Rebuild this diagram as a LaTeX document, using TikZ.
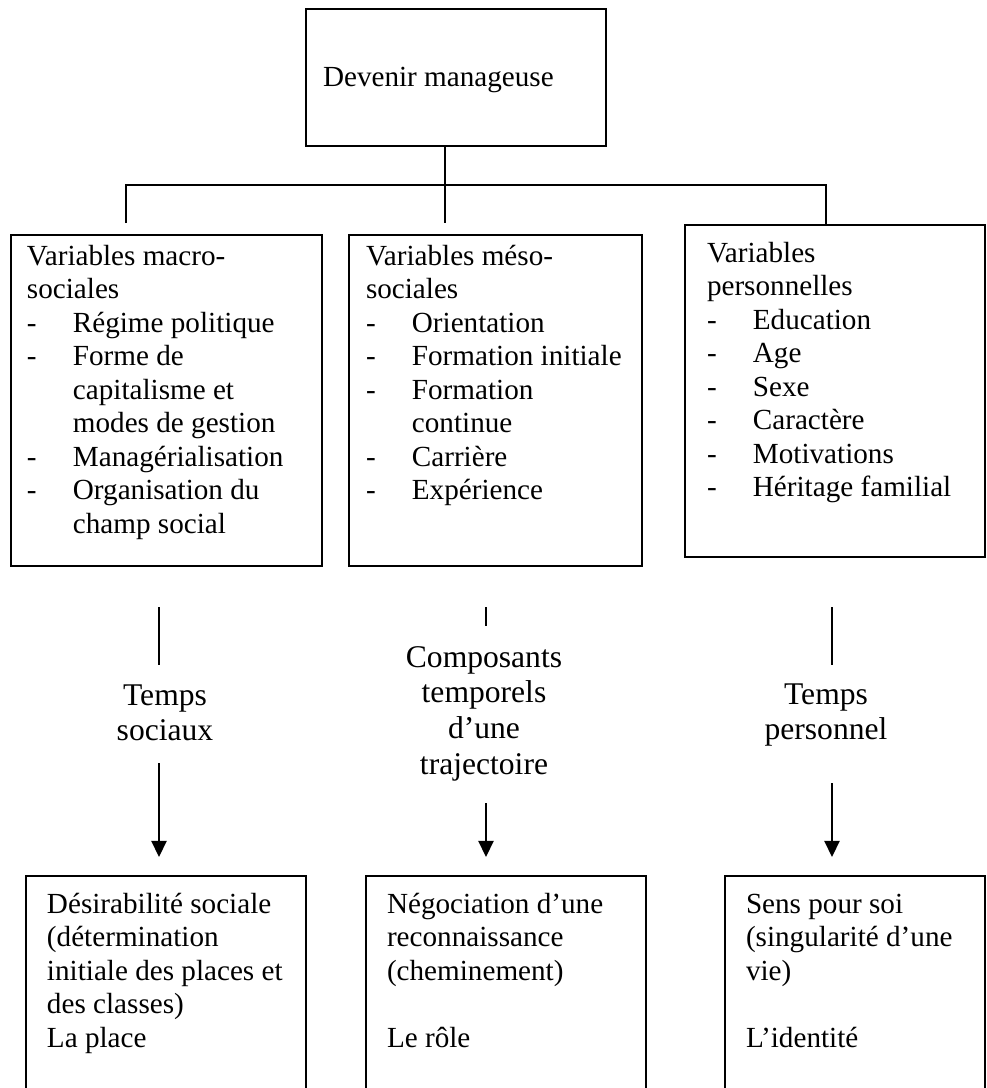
\documentclass[tikz,border=0pt]{standalone}
\usepackage{fontspec}
\setmainfont{Liberation Serif}
\usetikzlibrary{arrows.meta}
\def\pxu{0.4115pt}
\newcommand{\itm}[1]{\makebox[18.9pt][l]{-}#1}
\newcommand{\cnt}[1]{\hspace*{18.9pt}#1}
\begin{document}
\begin{tikzpicture}[x=0.4115pt,y=-0.4115pt,
  box/.style={draw, line width=0.8pt, inner sep=0pt, outer sep=0pt, anchor=north west},
  txt/.style={inner sep=0pt, outer sep=0pt, anchor=base west, font=\fontsize{12}{13.8}\selectfont},
  lbl/.style={inner sep=0pt, outer sep=0pt, anchor=base, font=\fontsize{13}{14.8}\selectfont},
  conn/.style={line width=0.8pt},
  arr/.style={line width=0.8pt, -{Triangle[width=6.2pt,length=6.6pt]}}]
\useasboundingbox (0,0) rectangle (987,1088);
\clip (0,0) rectangle (987,1088);

% boxes
\node[box, minimum width={300*\pxu}, minimum height={137*\pxu}] (top) at (306,9) {};
\node[box, minimum width={311*\pxu}, minimum height={331*\pxu}] (L) at (11,235) {};
\node[box, minimum width={293*\pxu}, minimum height={331*\pxu}] (M) at (349,235) {};
\node[box, minimum width={300*\pxu}, minimum height={332*\pxu}] (R) at (685,225) {};
\node[box, minimum width={280*\pxu}, minimum height={240*\pxu}] (BL) at (26,876) {};
\node[box, minimum width={280*\pxu}, minimum height={240*\pxu}] (BM) at (366,876) {};
\node[box, minimum width={260*\pxu}, minimum height={240*\pxu}] (BR) at (725,876) {};

% texts
\node[txt] (tTop) at (323,86) {Devenir manageuse};
\node[txt] (tL) at (27,265) {\begin{tabular}[t]{@{}l@{}}Variables macro-\\ sociales\\ \itm{Régime politique}\\ \itm{Forme de}\\ \cnt{capitalisme et}\\ \cnt{modes de gestion}\\ \itm{Managérialisation}\\ \itm{Organisation du}\\ \cnt{champ social}\end{tabular}};
\node[txt] (tM) at (366,265) {\begin{tabular}[t]{@{}l@{}}Variables méso-\\ sociales\\ \itm{Orientation}\\ \itm{Formation initiale}\\ \itm{Formation}\\ \cnt{continue}\\ \itm{Carrière}\\ \itm{Expérience}\end{tabular}};
\node[txt] (tR) at (707,262) {\begin{tabular}[t]{@{}l@{}}Variables\\ personnelles\\ \itm{Education}\\ \itm{Age}\\ \itm{Sexe}\\ \itm{Caractère}\\ \itm{Motivations}\\ \itm{Héritage familial}\end{tabular}};

\node[txt] (tBL) at (47,913) {\begin{tabular}[t]{@{}l@{}}Désirabilité sociale\\ (détermination\\ initiale des places et\\ des classes)\\ La place\end{tabular}};
\node[txt] (tBM) at (387,913) {\begin{tabular}[t]{@{}l@{}}Négociation d’une\\ reconnaissance\\ (cheminement)\\ \mbox{}\\ Le rôle\end{tabular}};
\node[txt] (tBR) at (746,913) {\begin{tabular}[t]{@{}l@{}}Sens pour soi\\ (singularité d’une\\ vie)\\ \mbox{}\\ L’identité\end{tabular}};

% middle labels
\node[lbl] (lL) at (165,705) {\begin{tabular}[t]{@{}c@{}}Temps\\ sociaux\end{tabular}};
\node[lbl] (lM) at (484,667) {\begin{tabular}[t]{@{}c@{}}Composants\\ temporels\\ d’une\\ trajectoire\end{tabular}};
\node[lbl] (lR) at (826,704) {\begin{tabular}[t]{@{}c@{}}Temps\\ personnel\end{tabular}};

% tree connectors
\coordinate (hL) at (126,185);
\coordinate (hR) at (826,185);
\coordinate (eL) at (126,223);
\coordinate (eC) at (445,223);
\draw[conn] (top.south -| eC) -- (eC);
\draw[conn] (eL) -- (hL) -- (hR) -- (R.north -| hR);

% vertical connectors and arrows
\coordinate (uL1) at (159,607); \coordinate (uL2) at (159,665);
\coordinate (dL1) at (159,763); \coordinate (dL2) at (159,857);
\coordinate (uM1) at (486,607); \coordinate (uM2) at (486,626);
\coordinate (dM1) at (486,803); \coordinate (dM2) at (486,857);
\coordinate (uR1) at (832,607); \coordinate (uR2) at (832,665);
\coordinate (dR1) at (832,783); \coordinate (dR2) at (832,857);
\draw[conn] (uL1) -- (uL2);
\draw[arr] (dL1) -- (dL2);
\draw[conn] (uM1) -- (uM2);
\draw[arr] (dM1) -- (dM2);
\draw[conn] (uR1) -- (uR2);
\draw[arr] (dR1) -- (dR2);
\end{tikzpicture}
\end{document}
